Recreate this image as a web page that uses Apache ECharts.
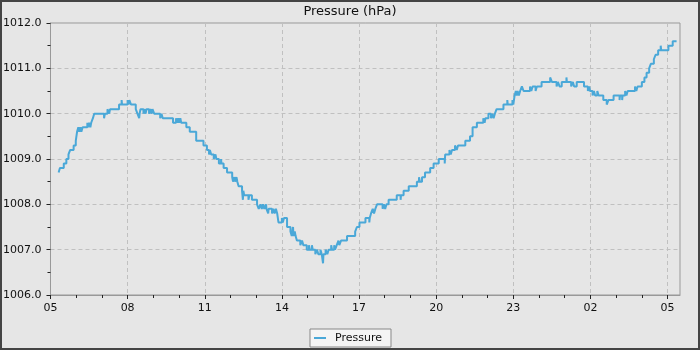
<!DOCTYPE html>
<html>
<head>
<meta charset="utf-8">
<script src="https://cdn.jsdelivr.net/npm/echarts@6/dist/echarts.min.js"></script>
<style>
html,body{margin:0;padding:0;background:#e6e6e6;}
#c{width:700px;height:350px;}
</style>
</head>
<body>
<div id="c"></div>
<script>
// minutes after 05:00 (start day) at which the reading changes
var minutes = [19,22,31,37,42,46,54,59,62,65,67,70,72,75,86,88,90,93,95,99,102,125,127,133,137,139,160,166,167,180,182,184,188,199,203,207,208,210,217,219,222,224,230,233,236,238,242,256,259,262,286,293,295,298,300,303,305,317,325,340,357,365,370,372,375,381,385,387,393,398,399,404,412,424,426,429,431,434,436,439,447,449,450,452,462,464,470,482,486,490,493,496,499,503,504,508,509,517,520,523,526,529,532,540,542,545,552,560,563,566,567,570,572,575,583,587,590,598,603,605,610,612,618,622,625,630,633,636,637,642,646,649,655,657,662,664,668,672,674,678,692,711,715,721,735,744,745,748,752,755,758,762,775,778,781,784,789,808,817,818,824,836,855,860,862,867,874,886,894,906,920,921,931,934,937,944,948,951,968,979,985,995,1010,1013,1015,1022,1028,1031,1034,1037,1041,1057,1066,1067,1078,1080,1083,1086,1088,1090,1093,1096,1100,1104,1119,1122,1125,1132,1135,1146,1166,1170,1181,1184,1188,1193,1204,1205,1215,1219,1222,1228,1245,1254,1257,1259,1265,1268,1271,1276,1279,1290,1298,1302,1314,1328,1329,1334,1335,1341,1344,1347,1364,1367,1370,1380,1386,1391,1397,1401,1408,1412,1418,1424,1425,1442,1452,1461];
var pressure = [1008.7,1008.8,1008.9,1009.0,1009.1,1009.2,1009.3,1009.4,1009.6,1009.7,1009.6,1009.7,1009.6,1009.7,1009.8,1009.7,1009.8,1009.7,1009.8,1009.9,1010.0,1009.9,1010.0,1010.1,1010.0,1010.1,1010.2,1010.3,1010.2,1010.3,1010.2,1010.3,1010.2,1010.1,1010.0,1009.9,1010.0,1010.1,1010.0,1010.1,1010.0,1010.1,1010.0,1010.1,1010.0,1010.1,1010.0,1009.9,1010.0,1009.9,1009.8,1009.9,1009.8,1009.9,1009.8,1009.9,1009.8,1009.7,1009.6,1009.4,1009.3,1009.2,1009.1,1009.2,1009.1,1009.0,1009.1,1009.0,1008.9,1009.0,1008.9,1008.8,1008.7,1008.6,1008.5,1008.6,1008.5,1008.6,1008.5,1008.4,1008.3,1008.1,1008.3,1008.2,1008.1,1008.2,1008.1,1008.0,1007.9,1008.0,1007.9,1008.0,1007.9,1008.0,1007.9,1007.8,1007.9,1007.8,1007.9,1007.8,1007.9,1007.8,1007.6,1007.7,1007.6,1007.7,1007.5,1007.4,1007.3,1007.5,1007.3,1007.4,1007.3,1007.2,1007.1,1007.2,1007.1,1007.0,1007.1,1007.0,1007.1,1007.0,1006.9,1007.0,1006.9,1007.0,1006.9,1006.7,1006.9,1007.0,1006.9,1007.0,1007.1,1007.0,1007.1,1007.0,1007.1,1007.2,1007.1,1007.2,1007.3,1007.4,1007.5,1007.6,1007.7,1007.6,1007.7,1007.8,1007.9,1007.8,1007.9,1008.0,1007.9,1008.0,1007.9,1008.0,1008.1,1008.2,1008.1,1008.2,1008.3,1008.4,1008.5,1008.6,1008.5,1008.6,1008.7,1008.8,1008.9,1009.0,1008.9,1009.1,1009.2,1009.1,1009.2,1009.3,1009.2,1009.3,1009.4,1009.5,1009.7,1009.8,1009.9,1009.8,1009.9,1010.0,1009.9,1010.0,1009.9,1010.0,1010.1,1010.2,1010.3,1010.2,1010.3,1010.2,1010.4,1010.5,1010.4,1010.5,1010.4,1010.5,1010.6,1010.5,1010.6,1010.5,1010.6,1010.5,1010.6,1010.7,1010.8,1010.7,1010.6,1010.7,1010.6,1010.7,1010.8,1010.7,1010.6,1010.7,1010.6,1010.7,1010.6,1010.5,1010.6,1010.5,1010.4,1010.5,1010.4,1010.5,1010.4,1010.3,1010.2,1010.3,1010.4,1010.3,1010.4,1010.3,1010.4,1010.5,1010.4,1010.5,1010.6,1010.5,1010.6,1010.7,1010.8,1010.9,1011.0,1011.1,1011.2,1011.3,1011.4,1011.5,1011.4,1011.5,1011.6,1011.6];
var majorTickMinutes = [0,180,360,540,720,900,1080,1260,1440];
var tickLabels = ['05','08','11','14','17','20','23','02','05'];
var seriesName = 'Pressure';
var titleText = 'Pressure (hPa)';

var minorTickMinutes = [];
for (var h = 1; h <= 24; h++) { if (h % 3 !== 0) minorTickMinutes.push(h * 60); }
var data = minutes.map(function (m, i) { return [m, pressure[i]]; });

var font = 'DejaVu Sans';
var chart = echarts.init(document.getElementById('c'), null, {renderer: 'canvas'});
chart.setOption({
  animation: false,
  backgroundColor: '#e6e6e6',
  textStyle: {fontFamily: font},
  title: {
    text: titleText, left: 'center', top: 5, padding: 0,
    textStyle: {fontFamily: font, fontSize: 13, fontWeight: 'normal', color: '#111'}
  },
  graphic: [{
    type: 'rect', silent: true, z: 100,
    shape: {x: 1, y: 1, width: 698, height: 348},
    style: {fill: 'none', stroke: '#444', lineWidth: 2}
  }],
  legend: {
    bottom: 3, left: 'center',
    data: [seriesName],
    icon: 'rect', itemWidth: 12, itemHeight: 2,
    padding: [2, 5, 2, 4],
    backgroundColor: '#f4f4f4', borderColor: '#888', borderWidth: 1, borderRadius: 0,
    textStyle: {fontFamily: font, fontSize: 11, color: '#111', padding: [0, 4, 0, 4], lineHeight: 14}
  },
  grid: {
    left: 50, right: 20, top: 23, bottom: 55,
    show: true, borderColor: '#999', borderWidth: 1, backgroundColor: 'transparent'
  },
  xAxis: [{
    type: 'value', min: 0, max: 1469, interval: 180, position: 'bottom',
    axisLine: {show: true, lineStyle: {color: '#999', width: 1}},
    axisTick: {show: true, inside: false, length: 4, customValues: majorTickMinutes, lineStyle: {color: '#222'}},
    axisLabel: {
      show: true, margin: 8, fontSize: 11, color: '#111', fontFamily: font,
      customValues: majorTickMinutes,
      formatter: function (v) { var i = majorTickMinutes.indexOf(v); return i >= 0 ? tickLabels[i] : ''; }
    },
    splitLine: {show: true, lineStyle: {color: '#c0c0c0', type: [4, 3], width: 1}},
    minorTick: {show: false}
  }, {
    type: 'value', min: 0, max: 1469, interval: 60, position: 'bottom',
    axisLine: {show: false},
    axisTick: {show: true, inside: false, length: 3, customValues: minorTickMinutes, lineStyle: {color: '#222'}},
    axisLabel: {show: false},
    splitLine: {show: false}
  }],
  yAxis: {
    type: 'value', min: 1006, max: 1012, interval: 1,
    axisLine: {show: true, lineStyle: {color: '#999', width: 1}},
    axisTick: {show: true, inside: false, length: 4, lineStyle: {color: '#222'}},
    minorTick: {show: true, splitNumber: 2, length: 3, lineStyle: {color: '#222'}},
    axisLabel: {
      margin: 9, fontSize: 11, color: '#111', fontFamily: font,
      formatter: function (v) { return v.toFixed(1); }
    },
    splitLine: {show: true, lineStyle: {color: '#c0c0c0', type: [4, 3], width: 1}}
  },
  series: [{
    name: seriesName, type: 'line', xAxisIndex: 0,
    data: data, step: 'end', showSymbol: false, symbol: 'none',
    lineStyle: {color: '#4aa8d8', width: 2},
    itemStyle: {color: '#4aa8d8'}
  }]
});
</script>
</body>
</html>
